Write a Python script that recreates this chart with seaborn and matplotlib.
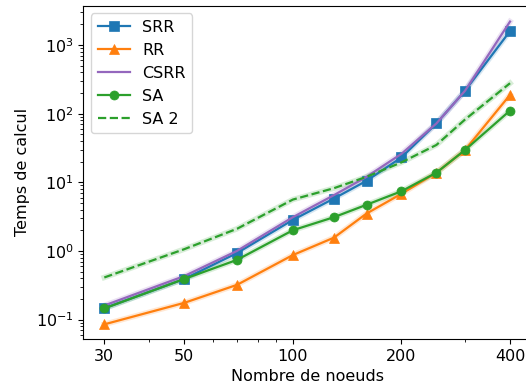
import matplotlib
matplotlib.use("Agg")
import matplotlib.pyplot as plt
import seaborn as sns
from matplotlib.ticker import FixedLocator, FixedFormatter, NullFormatter, LogLocator

# ---- data ----
nodes = [30, 50, 70, 100, 130, 160, 200, 250, 300, 400]
srr = [0.146, 0.39, 0.93, 2.83, 5.8, 10.5, 23, 72, 215, 1600]
rr = [0.085, 0.175, 0.32, 0.87, 1.56, 3.5, 6.8, 13.8, 29.5, 188]
csrr = [0.16, 0.43, 1.0, 3.1, 6.5, 12, 26, 72, 215, 2200]
sa = [0.145, 0.39, 0.74, 2.0, 3.1, 4.7, 7.4, 13.8, 29.5, 111]
sa2 = [0.41, 1.06, 2.1, 5.6, 8.2, 12, 19.5, 35, 82, 278]

xtick_vals = [30, 50, 100, 200, 400]
xtick_labels = ["30", "50", "100", "200", "400"]

plt.rcParams["font.family"] = ["DejaVu Sans"]
plt.rcParams["font.size"] = 11.5

fig = plt.figure(figsize=(5.26, 3.85), dpi=100)
ax = fig.add_axes([0.1584, 0.1195, 0.8511, 0.8662])

blue, orange, purple, green = "#1f77b4", "#ff7f0e", "#9467bd", "#2ca02c"
lw = 1.6
ms = 6.5

# soft halos (uncertainty band look)
for ys, c in [(srr, blue), (rr, orange), (csrr, purple), (sa, green), (sa2, green)]:
    sns.lineplot(x=nodes, y=ys, ax=ax, color=c, lw=4.0, alpha=0.18, legend=False)

sns.lineplot(x=nodes, y=srr, ax=ax, color=blue, lw=lw, marker="s", ms=ms,
             markeredgecolor=blue, markeredgewidth=0.5, label="SRR")
sns.lineplot(x=nodes, y=rr, ax=ax, color=orange, lw=lw, marker="^", ms=ms,
             markeredgecolor=orange, markeredgewidth=0.5, label="RR")
sns.lineplot(x=nodes, y=csrr, ax=ax, color=purple, lw=lw, label="CSRR")
sns.lineplot(x=nodes, y=sa, ax=ax, color=green, lw=lw, marker="o", ms=ms,
             markeredgecolor=green, markeredgewidth=0.5, label="SA")
sns.lineplot(x=nodes, y=sa2, ax=ax, color=green, lw=lw, linestyle="--", label="SA 2")

ax.set_xscale("log")
ax.set_yscale("log")
ax.set_xlim(26.24, 457.3)
ax.set_ylim(0.052, 3770)

ax.xaxis.set_major_locator(FixedLocator(xtick_vals))
ax.xaxis.set_major_formatter(FixedFormatter(xtick_labels))
ax.xaxis.set_minor_locator(LogLocator(base=10, subs=range(2, 10)))
ax.xaxis.set_minor_formatter(NullFormatter())

ax.set_xlabel("Nombre de noeuds")
ax.set_ylabel("Temps de calcul")

ax.legend(loc="upper left")

fig.savefig("out.png", dpi=100)
